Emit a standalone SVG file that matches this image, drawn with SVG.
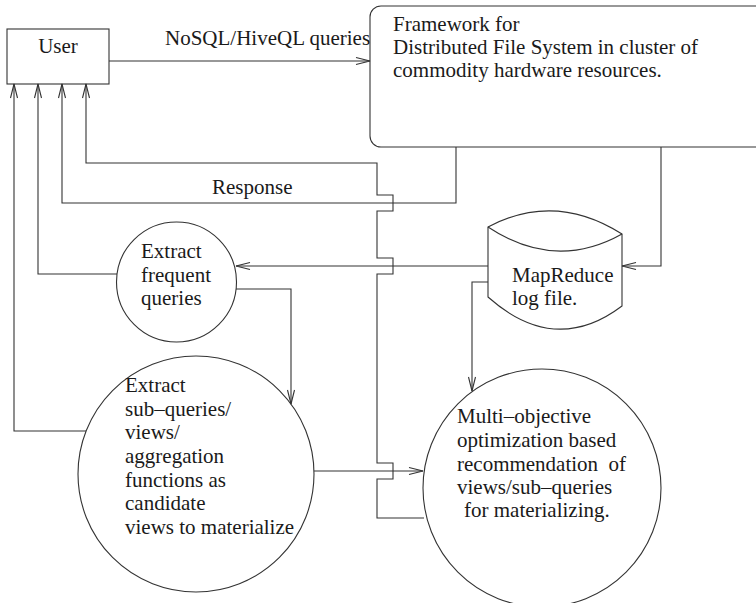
<svg xmlns="http://www.w3.org/2000/svg" width="756" height="603" viewBox="0 0 756 603">
<style>
.shape{fill:#fff;stroke:#333;stroke-width:1.1}
.conn{fill:none;stroke:#333;stroke-width:1.1}
text{font-family:"Liberation Serif","Times New Roman",serif;font-size:21px;fill:#1a1a1a}
</style>
<defs>
<marker id="arr" markerUnits="userSpaceOnUse" markerWidth="16" markerHeight="9" refX="14" refY="3.5" orient="auto" overflow="visible">
<path d="M0,0 L14,3.5 L0,7" fill="none" stroke="#333" stroke-width="1.1"/>
</marker>
</defs>
<rect width="756" height="603" fill="#fff"/>
<g id="user">
<rect class="shape" x="7" y="29" width="102" height="55"/>
<text x="58" y="53" text-anchor="middle">User</text>
</g>
<g id="framework">
<rect class="shape" x="370" y="6" width="410" height="141" rx="11" ry="11"/>
<text x="393" y="31">Framework for</text>
<text x="393" y="54">Distributed File System in cluster of</text>
<text x="393" y="77">commodity hardware resources.</text>
</g>
<g id="mapreduce">
<path class="shape" d="M488,227 Q555,191.5 622,234 L622,306 Q555,356.5 488,297 Z"/>
<path class="conn" d="M488,227 Q555,271.5 622,234"/>
<text x="512" y="282">MapReduce</text>
<text x="512" y="305">log file.</text>
</g>
<g id="extract-frequent">
<circle class="shape" cx="176.5" cy="282" r="60"/>
<text x="141" y="258">Extract</text>
<text x="141" y="282">frequent</text>
<text x="141" y="305">queries</text>
</g>
<g id="extract-sub">
<circle class="shape" cx="196" cy="474" r="118"/>
<text x="125" y="392">Extract</text>
<text x="125" y="416">sub–queries/</text>
<text x="125" y="439">views/</text>
<text x="125" y="463">aggregation</text>
<text x="125" y="487">functions as</text>
<text x="125" y="510">candidate</text>
<text x="125" y="534">views to materialize</text>
</g>
<g id="multi-objective">
<circle class="shape" cx="542" cy="488" r="119"/>
<text x="457" y="423">Multi–objective</text>
<text x="457" y="447">optimization based</text>
<text x="457" y="471" xml:space="preserve">recommendation  of</text>
<text x="457" y="494">views/sub–queries</text>
<text x="464" y="517">for materializing.</text>
</g>
<g id="connectors">
<path class="conn" d="M109,61 H370" marker-end="url(#arr)"/>
<text x="165" y="45">NoSQL/HiveQL queries</text>
<path class="conn" d="M456,147 V203 H62 V84" marker-end="url(#arr)"/>
<text x="212" y="194">Response</text>
<path class="conn" d="M424,518 H377 V479 H393 V463 H377 V274 H393 V258 H377 V211 H393 V195 H377 V163 H86 V84" marker-end="url(#arr)"/>
<path class="conn" d="M661,147 V266 H622" marker-end="url(#arr)"/>
<path class="conn" d="M488,266 H236" marker-end="url(#arr)"/>
<path class="conn" d="M488,282 H472 V391" marker-end="url(#arr)"/>
<path class="conn" d="M117,274 H38 V84" marker-end="url(#arr)"/>
<path class="conn" d="M236,289 H291 V404" marker-end="url(#arr)"/>
<path class="conn" d="M86,431 H14 V84" marker-end="url(#arr)"/>
<path class="conn" d="M314,471 H423" marker-end="url(#arr)"/>
</g>
</svg>
